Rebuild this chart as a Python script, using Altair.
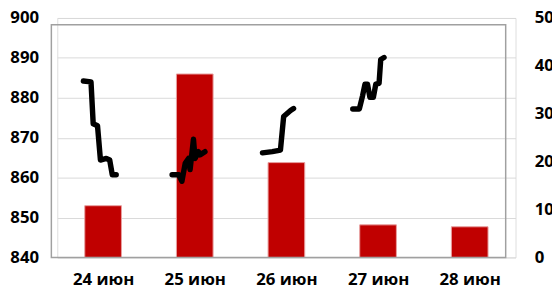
import altair as alt
import pandas as pd

# Categories (days) and bar values (right axis, 0-50)
days = ["24 июн", "25 июн", "26 июн", "27 июн", "28 июн"]
bar_values = [10.8, 38.3, 19.8, 6.8, 6.4]

# Intraday line (left axis, 840-900): day index, position within day, value
line_day = [0]*9 + [1]*11 + [2]*7 + [3]*11
line_frac = [
    0.285, 0.368, 0.392, 0.439, 0.471, 0.535, 0.572, 0.600, 0.643,
    0.253, 0.325, 0.360, 0.396, 0.432, 0.449, 0.486, 0.503, 0.540, 0.557, 0.611,
    0.239, 0.346, 0.435, 0.470, 0.520, 0.545, 0.578,
    0.224, 0.296, 0.331, 0.357, 0.385, 0.411, 0.449, 0.475, 0.511, 0.529, 0.565,
]
line_val = [
    884.2, 884.0, 873.5, 873.0, 864.4, 864.8, 864.4, 860.7, 860.7,
    860.7, 860.7, 859.1, 863.6, 864.8, 862.0, 869.6, 864.8, 866.5, 865.7, 866.5,
    866.2, 866.5, 866.9, 875.3, 876.3, 876.8, 877.3,
    877.2, 877.2, 880.5, 883.4, 883.4, 880.1, 880.1, 883.4, 883.6, 889.6, 890.1,
]

left_ticks = [840, 850, 860, 870, 880, 890, 900]
right_ticks = [0, 10, 20, 30, 40, 50]

FONT = "Open Sans"
FS = 17

bars_df = pd.DataFrame({
    "day": days,
    "x0": [i + 0.3 for i in range(len(days))],
    "x1": [i + 0.7 for i in range(len(days))],
    "v": bar_values,
})
line_df = pd.DataFrame({
    "day": line_day,
    "pos": [d + f for d, f in zip(line_day, line_frac)],
    "v": line_val,
})

label_arr = "[" + ",".join("'" + d + "'" for d in days) + "]"
x_scale = alt.Scale(domain=[0, len(days)], nice=False, zero=False)
x_axis = alt.Axis(
    values=[i + 0.5 for i in range(len(days))],
    labelExpr=label_arr + "[floor(datum.value)]",
    grid=False, ticks=False, domain=False, title=None,
    labelPadding=14, labelFont=FONT, labelFontSize=FS, labelFontWeight="bold",
    labelColor="black",
)

bars = alt.Chart(bars_df).mark_rect(
    fill="#C00000", stroke="#e8a0a0", strokeWidth=1
).encode(
    x=alt.X("x0:Q", scale=x_scale, axis=x_axis),
    x2="x1:Q",
    y=alt.Y("v:Q", scale=alt.Scale(domain=[0, 50], nice=False),
            axis=alt.Axis(orient="right", values=right_ticks, grid=False, ticks=False,
                          domain=False, title=None, labelPadding=19, labelFont=FONT,
                          labelFontSize=FS, labelFontWeight="bold", labelColor="black")),
    y2=alt.datum(0),
)

line = alt.Chart(line_df).mark_line(
    color="black", strokeWidth=5.5, strokeCap="round", strokeJoin="round"
).encode(
    x=alt.X("pos:Q", scale=x_scale, axis=x_axis),
    y=alt.Y("v:Q", scale=alt.Scale(domain=[840, 900], nice=False, zero=False),
            axis=alt.Axis(orient="left", values=left_ticks, grid=True, gridColor="#d9d9d9",
                          gridWidth=1, ticks=False, domain=False, title=None,
                          labelPadding=19, labelFont=FONT, labelFontSize=FS,
                          labelFontWeight="bold", labelColor="black")),
    detail="day:N",
)

border = alt.Chart(pd.DataFrame({"a": [0]})).mark_rect(
    fillOpacity=0, stroke="#a0a0a0", strokeWidth=1.5
).encode(
    x=alt.value(-6), x2=alt.value(455), y=alt.value(7), y2=alt.value(243)
)

chart = alt.layer(bars, line, border).resolve_scale(y="independent").properties(
    width=465, height=243,
    autosize=alt.AutoSizeParams(type="none"),
    padding={"left": 50, "top": 8, "right": 37, "bottom": 36},
).configure_view(stroke=None).configure(background="white")

chart.save("out.html", embed_options={"renderer": "svg", "actions": False})
